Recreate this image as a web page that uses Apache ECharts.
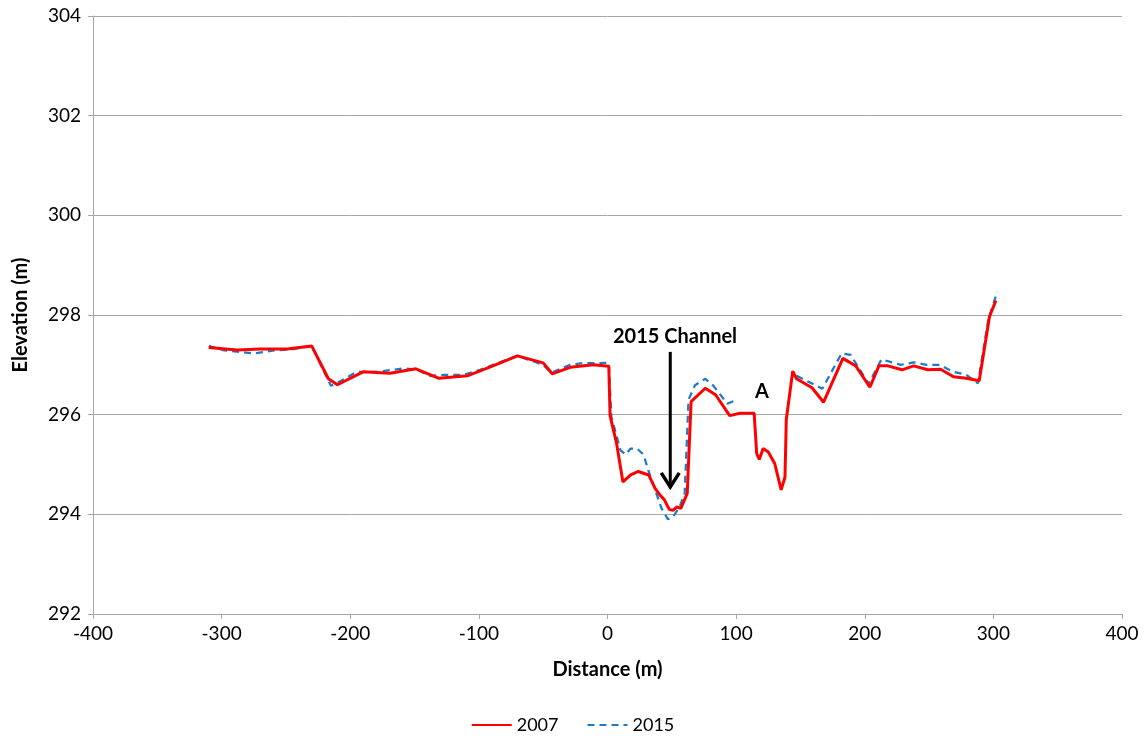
<!DOCTYPE html>
<html>
<head>
<meta charset="utf-8">
<script src="https://cdn.jsdelivr.net/npm/echarts@6/dist/echarts.min.js"></script>
<style>
  html, body { margin: 0; padding: 0; background: #fff; }
  #chart { width: 1145px; height: 736px; }
</style>
</head>
<body>
<div id="chart"></div>
<script>
// Cross-section survey: distance along section (m) vs. ground elevation (m)
const profile2007 = [
  [-310, 297.35], [-288, 297.30], [-270, 297.32], [-249, 297.32], [-230, 297.38],
  [-217, 296.72], [-210, 296.60], [-190, 296.86], [-169, 296.83], [-149, 296.92],
  [-131, 296.73], [-109, 296.78], [-91, 296.96], [-70, 297.18], [-50, 297.04],
  [-43, 296.82], [-29, 296.95], [-11, 297.00], [1, 296.97], [2, 295.98],
  [7, 295.43], [12, 294.65], [18, 294.79], [24, 294.86], [32, 294.79],
  [37, 294.52], [41, 294.38], [44, 294.30], [48, 294.10], [51, 294.08],
  [54, 294.15], [57, 294.12], [62, 294.42], [65, 296.26], [76, 296.53],
  [84, 296.40], [95, 295.98], [103, 296.03], [114, 296.03], [116, 295.22],
  [118, 295.10], [121, 295.32], [125, 295.25], [130, 295.02], [135, 294.49],
  [138, 294.75], [139, 295.90], [144, 296.87], [147, 296.72], [159, 296.54],
  [168, 296.25], [183, 297.13], [193, 296.98], [204, 296.55], [211, 296.98],
  [218, 296.98], [229, 296.90], [238, 296.98], [249, 296.90], [259, 296.91],
  [269, 296.76], [279, 296.73], [289, 296.68], [297, 297.97], [302, 298.29]
];

const profile2015 = [
  [-310, 297.38], [-298, 297.29], [-275, 297.23], [-259, 297.29], [-246, 297.31],
  [-230, 297.38], [-215, 296.58], [-207, 296.68], [-195, 296.86], [-179, 296.86],
  [-158, 296.93], [-148, 296.90], [-138, 296.78], [-127, 296.80], [-112, 296.80],
  [-99, 296.90], [-86, 297.03], [-70, 297.18], [-50, 297.00], [-44, 296.84],
  [-29, 297.00], [-21, 297.03], [1, 297.04], [3, 295.96], [10, 295.29],
  [14, 295.20], [18, 295.32], [23, 295.32], [28, 295.20], [32, 294.86],
  [38, 294.42], [42, 294.12], [47, 293.90], [51, 293.95], [56, 294.15],
  [60, 294.42], [63, 296.30], [68, 296.59], [76, 296.72], [82, 296.59],
  [89, 296.36], [93, 296.22], [98, 296.27], [null, null],
  [147, 296.78], [167, 296.52], [182, 297.23], [189, 297.20], [203, 296.62],
  [213, 297.11], [228, 297.00], [238, 297.05], [248, 297.00], [258, 297.00],
  [269, 296.86], [279, 296.80], [288, 296.63], [296, 297.90], [303, 298.47]
];

const seriesNames = ['2007', '2015'];
const xTicks = { min: -400, max: 400, interval: 100 };
const yTicks = { min: 292, max: 304, interval: 2 };

// Annotation anchors (data space)
const channelLabel = { text: '2015 Channel', at: [52.5, 297.56] };
const channelArrow = { from: [48.8, 297.26], to: [48.8, 294.55] };
const pointLabel = { text: 'A', at: [120, 296.47] };

const FONT = 'Lato, "Open Sans", "Liberation Sans", sans-serif';
const chart = echarts.init(document.getElementById('chart'), null, { renderer: 'canvas' });

chart.setOption({
  animation: false,
  backgroundColor: '#ffffff',
  grid: { left: 93, right: 23, top: 16, bottom: 122, containLabel: false, outerBoundsMode: 'none' },
  xAxis: {
    type: 'value',
    min: xTicks.min, max: xTicks.max, interval: xTicks.interval,
    name: 'Distance (m)', nameLocation: 'middle', nameGap: 46,
    nameTextStyle: { fontFamily: FONT, fontSize: 20, fontWeight: 'bold', color: '#000' },
    axisLine: { show: true, onZero: false, lineStyle: { color: '#a6a6a6', width: 1 } },
    axisTick: { show: true, length: 5, lineStyle: { color: '#a6a6a6' } },
    axisLabel: { fontFamily: FONT, fontSize: 19, color: '#000', margin: 10 },
    splitLine: { show: false }
  },
  yAxis: {
    type: 'value',
    min: yTicks.min, max: yTicks.max, interval: yTicks.interval,
    name: 'Elevation (m)', nameLocation: 'middle', nameGap: 62, nameRotate: 90,
    nameTextStyle: { fontFamily: FONT, fontSize: 20, fontWeight: 'bold', color: '#000' },
    axisLine: { show: true, onZero: false, lineStyle: { color: '#a6a6a6', width: 1 } },
    axisTick: { show: true, length: 5, lineStyle: { color: '#a6a6a6' } },
    axisLabel: { fontFamily: FONT, fontSize: 19, color: '#000', margin: 12 },
    splitLine: { show: true, lineStyle: { color: '#a6a6a6', width: 1 } }
  },
  legend: {
    top: 711, left: 'center',
    itemWidth: 40, itemHeight: 12, itemGap: 28,
    itemStyle: { opacity: 0 },
    textStyle: { fontFamily: FONT, fontSize: 18, color: '#000' },
    data: seriesNames
  },
  series: [
    {
      name: seriesNames[0], type: 'line', data: profile2007,
      symbol: 'none', connectNulls: false, z: 2,
      lineStyle: { color: '#ff0000', width: 3 },
      itemStyle: { color: '#ff0000' }
    },
    {
      name: seriesNames[1], type: 'line', data: profile2015,
      symbol: 'none', connectNulls: false, z: 1,
      lineStyle: { color: '#1f7ac8', width: 2.25, type: [7, 5] },
      itemStyle: { color: '#1f7ac8' }
    }
  ]
});

// Annotations placed through the chart's coordinate system
function px(p) { return chart.convertToPixel({ gridIndex: 0 }, p); }
const a0 = px(channelArrow.from), a1 = px(channelArrow.to);
const lp = px(channelLabel.at), ap = px(pointLabel.at);
chart.setOption({
  graphic: [
    { type: 'line', shape: { x1: a0[0], y1: a0[1], x2: a1[0], y2: a1[1] - 2 },
      style: { stroke: '#000', lineWidth: 3 }, z: 10 },
    { type: 'polyline', shape: { points: [[a1[0] - 9, a1[1] - 14], [a1[0], a1[1]], [a1[0] + 9, a1[1] - 14]] },
      style: { stroke: '#000', lineWidth: 3.5, fill: null, lineJoin: 'miter' }, z: 10 },
    { type: 'text', x: lp[0], y: lp[1],
      style: { text: channelLabel.text, fontFamily: FONT, fontSize: 20, fontWeight: 'bold', fill: '#000', align: 'center', verticalAlign: 'middle' }, z: 10 },
    { type: 'text', x: ap[0], y: ap[1],
      style: { text: pointLabel.text, fontFamily: FONT, fontSize: 20, fontWeight: 'bold', fill: '#000', align: 'center', verticalAlign: 'middle' }, z: 10 }
  ]
});
</script>
</body>
</html>
